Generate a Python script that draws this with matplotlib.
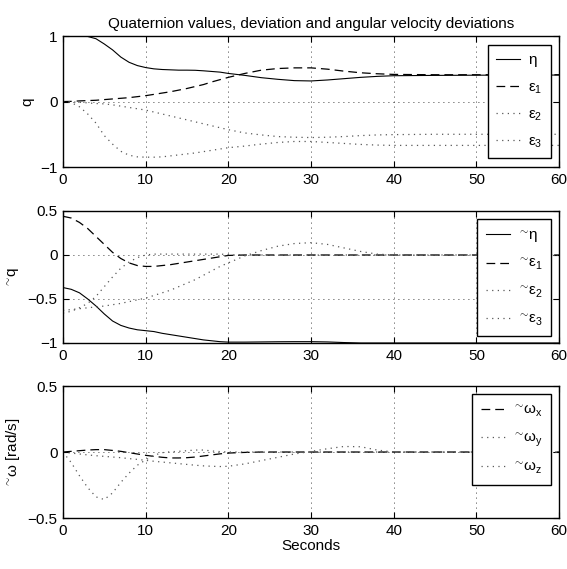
import matplotlib
matplotlib.use('Agg')
import matplotlib.pyplot as plt

plt.rcParams['font.family'] = ['Liberation Sans', 'DejaVu Sans']
plt.rcParams['font.size'] = 11
plt.rcParams['mathtext.fontset'] = 'custom'
plt.rcParams['mathtext.rm'] = 'Liberation Sans'
plt.rcParams['mathtext.it'] = 'Liberation Sans'
plt.rcParams['mathtext.bf'] = 'Liberation Sans:bold'

# time samples (seconds)
t = [0, 1, 2, 3, 4, 5, 6, 7, 8, 9, 10, 11, 12, 13, 14, 15, 16, 17, 18, 19,
     20, 22, 24, 26, 28, 30, 32, 34, 36, 38, 40, 45, 50, 55, 60]

# quaternion q
eta = [1, 1, 1, 0.995, 0.96, 0.88, 0.79, 0.68, 0.6, 0.55, 0.52, 0.5, 0.49, 0.485,
       0.48, 0.48, 0.478, 0.47, 0.46, 0.45, 0.43, 0.4, 0.365, 0.34, 0.32, 0.315,
       0.33, 0.35, 0.37, 0.385, 0.395, 0.4, 0.403, 0.405, 0.405]
eps1 = [0, 0.003, 0.01, 0.015, 0.02, 0.03, 0.04, 0.05, 0.06, 0.075, 0.09, 0.11,
        0.13, 0.15, 0.175, 0.2, 0.23, 0.26, 0.3, 0.335, 0.37, 0.43, 0.48, 0.505,
        0.515, 0.515, 0.495, 0.465, 0.44, 0.425, 0.415, 0.41, 0.41, 0.41, 0.41]
eps2 = [0, -0.005, -0.01, -0.02, -0.03, -0.035, -0.05, -0.07, -0.09, -0.11, -0.13,
        -0.16, -0.19, -0.22, -0.25, -0.28, -0.31, -0.34, -0.37, -0.4, -0.43, -0.48,
        -0.51, -0.535, -0.545, -0.55, -0.545, -0.535, -0.52, -0.51, -0.505, -0.5,
        -0.5, -0.5, -0.5]
eps3 = [0, -0.015, -0.08, -0.19, -0.33, -0.52, -0.65, -0.76, -0.82, -0.845, -0.85,
        -0.85, -0.845, -0.83, -0.815, -0.8, -0.785, -0.765, -0.745, -0.725, -0.705,
        -0.68, -0.65, -0.625, -0.61, -0.61, -0.625, -0.64, -0.655, -0.665, -0.67,
        -0.67, -0.67, -0.67, -0.67]

# quaternion deviation
deta = [-0.37, -0.39, -0.43, -0.5, -0.58, -0.67, -0.75, -0.8, -0.83, -0.85, -0.86,
        -0.87, -0.89, -0.905, -0.92, -0.935, -0.95, -0.965, -0.975, -0.985, -0.99,
        -0.99, -0.988, -0.986, -0.985, -0.985, -0.988, -0.995, -1, -1, -1, -1, -1,
        -1, -1]
deps1 = [0.44, 0.42, 0.37, 0.3, 0.21, 0.12, 0.03, -0.04, -0.09, -0.12, -0.13, -0.13,
         -0.12, -0.11, -0.095, -0.08, -0.065, -0.05, -0.035, -0.02, -0.005, 0, 0, 0,
         0, 0, 0, 0, 0, 0, 0, 0, 0, 0, 0]
deps2 = [-0.66, -0.64, -0.6, -0.55, -0.47, -0.36, -0.25, -0.15, -0.08, -0.03, 0,
         0.01, 0.01, 0.01, 0.01, 0.01, 0.01, 0.01, 0.01, 0.01, 0.005, 0, 0, 0, 0, 0,
         0, 0, 0, 0, 0, 0, 0, 0, 0]
deps3 = [-0.63, -0.62, -0.61, -0.6, -0.59, -0.58, -0.565, -0.55, -0.53, -0.51, -0.49,
         -0.46, -0.43, -0.4, -0.36, -0.32, -0.28, -0.23, -0.18, -0.13, -0.09, -0.01,
         0.05, 0.1, 0.13, 0.14, 0.12, 0.08, 0.04, 0.01, 0, 0, 0, 0, 0]

# angular velocity deviation
wx = [0, 0.005, 0.01, 0.015, 0.018, 0.018, 0.012, 0.005, -0.005, -0.015, -0.025,
      -0.033, -0.04, -0.045, -0.045, -0.043, -0.038, -0.03, -0.022, -0.014, -0.008,
      -0.003, 0, 0, 0, 0, 0, 0, 0, 0, 0, 0, 0, 0, 0]
wy = [0, -0.08, -0.18, -0.27, -0.34, -0.36, -0.31, -0.23, -0.16, -0.1, -0.06, -0.025,
      -0.005, 0.002, 0.005, 0.01, 0.015, 0.015, 0.008, 0.003, 0, 0, 0, 0, 0, 0, 0, 0,
      0, 0, 0, 0, 0, 0, 0]
wz = [0, -0.008, -0.015, -0.022, -0.028, -0.033, -0.038, -0.043, -0.05, -0.056,
      -0.063, -0.07, -0.076, -0.082, -0.088, -0.094, -0.1, -0.105, -0.108, -0.11,
      -0.108, -0.09, -0.065, -0.04, -0.015, 0.005, 0.025, 0.042, 0.04, 0.015, 0, 0,
      0, 0, 0]

xticks = [0, 10, 20, 30, 40, 50, 60]

solid = dict(color='black', lw=0.8, ls='-')
dashed = dict(color='black', lw=0.9, ls=(0, (7, 4)))
dotted = dict(color='0.35', lw=0.9, ls=(0, (1, 3.5)))

fig = plt.figure(figsize=(5.67, 5.69), dpi=100)
left, width = 0.111, 0.875
ax1 = fig.add_axes([left, 0.7065, width, 0.230])
ax2 = fig.add_axes([left, 0.3972, width, 0.232])
ax3 = fig.add_axes([left, 0.0896, width, 0.232])

ax1.plot(t, eta, label=r'$\eta$', **solid)
ax1.plot(t, eps1, label=r'$ε_1$', **dashed)
ax1.plot(t, eps2, label=r'$ε_2$', **dotted)
ax1.plot(t, eps3, label=r'$ε_3$', **dotted)
ax1.set_ylim(-1, 1)
ax1.set_yticks([-1, 0, 1])
ax1.set_ylabel('q')
ax1.set_title('Quaternion values, deviation and angular velocity deviations',
              fontsize=11, pad=6)

ax2.plot(t, deta, label=r'$^{\sim}\!\eta$', **solid)
ax2.plot(t, deps1, label=r'$^{\sim}\!ε_1$', **dashed)
ax2.plot(t, deps2, label=r'$^{\sim}\!ε_2$', **dotted)
ax2.plot(t, deps3, label=r'$^{\sim}\!ε_3$', **dotted)
ax2.set_ylim(-1, 0.5)
ax2.set_yticks([-1, -0.5, 0, 0.5])
ax2.set_yticklabels(['\u22121', '\u22120.5', '0', '0.5'])
ax2.set_ylabel(r'$^{\sim}\!$q')

ax3.plot(t, wx, label=r'$^{\sim}\!\omega_x$', **dashed)
ax3.plot(t, wy, label=r'$^{\sim}\!\omega_y$', **dotted)
ax3.plot(t, wz, label=r'$^{\sim}\!\omega_z$', **dotted)
ax3.set_ylim(-0.5, 0.5)
ax3.set_yticks([-0.5, 0, 0.5])
ax3.set_yticklabels(['\u22120.5', '0', '0.5'])
ax3.set_ylabel(r'$^{\sim}\!\omega$ [rad/s]')
ax3.set_xlabel('Seconds', labelpad=1)

for ax in (ax1, ax2, ax3):
    ax.set_xlim(0, 60)
    ax.set_xticks(xticks)
    ax.tick_params(direction='in', length=4, top=True, right=True, width=0.8,
                   labelsize=11, pad=4)
    ax.grid(True, color='black', lw=0.6, ls=(0, (1, 5)))
    for s in ax.spines.values():
        s.set_linewidth(1.0)
    leg = ax.legend(loc='upper right', fancybox=False, framealpha=1,
                    edgecolor='black', handlelength=1.6, borderaxespad=0.55,
                    labelspacing=0.75, borderpad=0.55, handletextpad=0.5,
                    fontsize=11)
    leg.get_frame().set_linewidth(1.0)

fig.savefig('out.png', dpi=100)
